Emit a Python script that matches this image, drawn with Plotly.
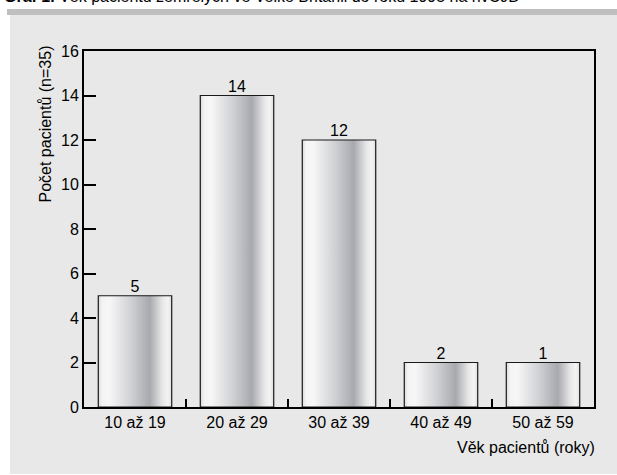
import plotly.graph_objects as go

# ---- data ----
categories = ["10 až 19", "20 až 29", "30 až 39", "40 až 49", "50 až 59"]
bar_heights = [5, 14, 12, 2, 2]
bar_labels = ["5", "14", "12", "2", "1"]
y_ticks = [0, 2, 4, 6, 8, 10, 12, 14, 16]

title_bold = "Graf 1."
title_rest = " Věk pacientů zemřelých ve Velké Británii do roku 1995 na nvCJD"
y_title = "Počet pacientů (n=35)"
x_title = "Věk pacientů (roky)"

# ---- layout geometry ----
W, H = 617, 475
L, R, T, B = 84, 23, 51, 68
PW, PH = W - L - R, H - T - B
FONT = "Liberation Sans, Arial, sans-serif"
FS = 16


def px(x):
    return (x - L) / PW


def py(y):
    return (H - B - y) / PH


BAR_W = 0.72
grad = [[0.0, "#d9d9d9"], [0.05, "#f4f4f4"], [0.15, "#f7f7f7"], [0.45, "#cfd0d3"],
        [0.70, "#a7a9ae"], [0.87, "#e6e6e6"], [0.95, "#f4f4f4"], [1.0, "#dcdcdc"]]

fig = go.Figure()
for i, h in enumerate(bar_heights):
    x0, x1 = i - BAR_W / 2, i + BAR_W / 2
    fig.add_trace(go.Scatter(
        x=[x0, x0, x1, x1, x0], y=[0, h, h, 0, 0],
        mode="lines", fill="toself",
        fillgradient=dict(type="horizontal", colorscale=grad),
        line=dict(color="#1a1a1a", width=1.2),
        hoverinfo="skip", showlegend=False))

fig.add_trace(go.Scatter(
    x=list(range(len(categories))), y=bar_heights, mode="text",
    text=bar_labels, textposition="top center",
    textfont=dict(family=FONT, size=FS, color="black"),
    showlegend=False, hoverinfo="skip"))

shapes = [
    dict(type="rect", xref="paper", yref="paper", layer="below",
         x0=px(10), x1=px(617), y0=py(474), y1=py(15),
         fillcolor="#e8e8e8", line=dict(width=0)),
    dict(type="rect", xref="paper", yref="paper", layer="below",
         x0=px(7), x1=px(617), y0=py(15), y1=py(9),
         fillcolor="#bfbfbf", line=dict(width=0)),
]

annotations = [
    dict(text=f"<b>{title_bold}</b>{title_rest}", xref="paper", yref="paper",
         x=px(2), y=py(7), xanchor="left", yanchor="bottom", showarrow=False,
         font=dict(family=FONT, size=FS, color="black")),
    dict(text=y_title, xref="paper", yref="paper", textangle=-90,
         x=px(45), y=py(44), xanchor="center", yanchor="top", showarrow=False,
         font=dict(family=FONT, size=FS, color="black")),
    dict(text=x_title, xref="paper", yref="paper",
         x=px(597), y=py(447), xanchor="right", yanchor="middle", showarrow=False,
         font=dict(family=FONT, size=FS, color="black")),
]

fig.update_layout(
    width=W, height=H, margin=dict(l=L, r=R, t=T, b=B, pad=0),
    paper_bgcolor="white", plot_bgcolor="rgba(0,0,0,0)",
    shapes=shapes, annotations=annotations,
    font=dict(family=FONT, size=FS, color="black"),
    xaxis=dict(range=[-0.5, len(categories) - 0.5],
               tickmode="array", tickvals=list(range(len(categories))),
               ticktext=categories, ticks="", showgrid=False, zeroline=False,
               showline=True, linecolor="black", linewidth=2, mirror=True,
               tickfont=dict(family=FONT, size=FS, color="black"),
               minor=dict(tickmode="array",
                          tickvals=[i + 0.5 for i in range(len(categories) - 1)],
                          ticks="inside", ticklen=8, tickwidth=2, tickcolor="black",
                          showgrid=False),
               fixedrange=True),
    yaxis=dict(range=[0, 16], tickmode="array", tickvals=y_ticks,
               ticks="inside", ticklen=12, tickwidth=2, tickcolor="black",
               showgrid=False, zeroline=False,
               showline=True, linecolor="black", linewidth=2, mirror=True,
               tickfont=dict(family=FONT, size=FS, color="black"),
               fixedrange=True),
)

fig.write_html("out.html")
